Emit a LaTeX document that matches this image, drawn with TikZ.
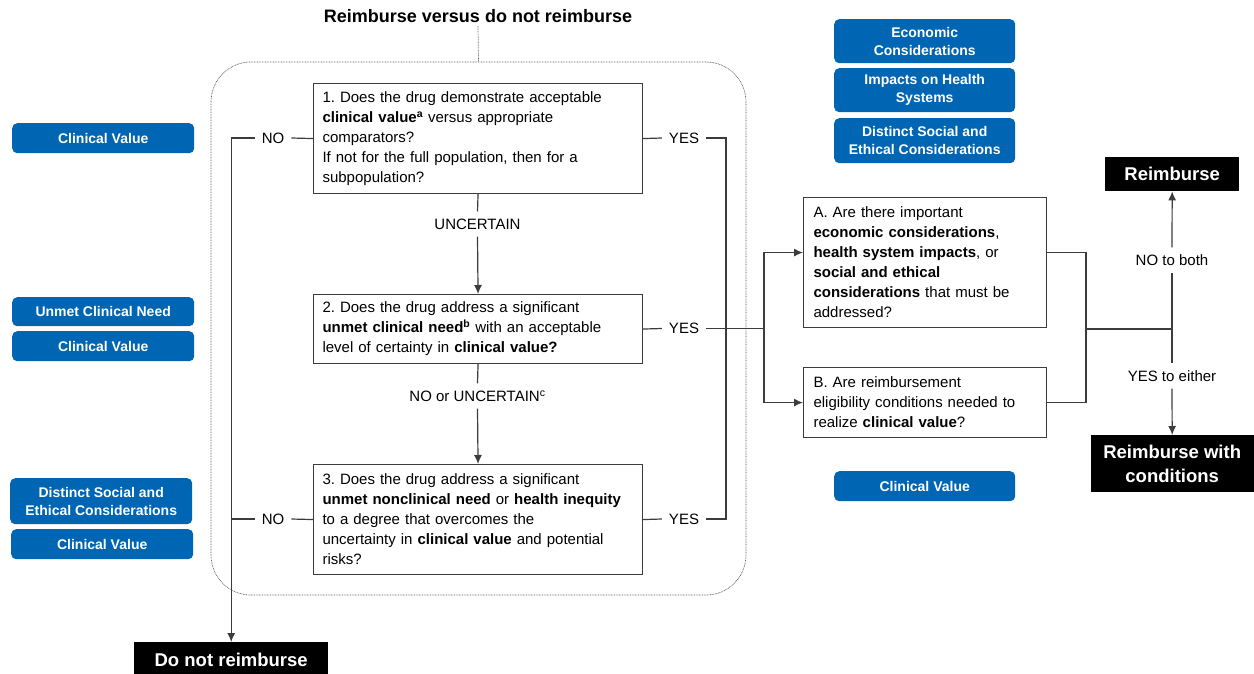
\documentclass[tikz,border=0pt]{standalone}
\usepackage{fontspec}
\setmainfont{Liberation Sans}
\usetikzlibrary{arrows.meta,positioning}

\definecolor{tagblue}{RGB}{0,102,179}
\definecolor{linegray}{RGB}{60,60,60}

\tikzset{
  question/.style={draw=linegray, line width=1.1pt, anchor=north west, align=left,
    inner xsep=9pt, inner ysep=0pt, font=\fontsize{15}{20}\selectfont},
  tag/.style={fill=tagblue, rounded corners=5pt, text=white, anchor=north west, align=center,
    inner sep=1pt, minimum width=182pt, minimum height=30pt,
    font=\bfseries\fontsize{14}{18}\selectfont},
  outcome/.style={fill=black, text=white, anchor=north west, align=center, inner sep=0pt,
    font=\bfseries\fontsize{18.5}{24}\selectfont},
  lbl/.style={inner sep=7pt, font=\fontsize{15}{18}\selectfont},
  conn/.style={draw=linegray, line width=1.2pt},
  arr/.style={conn, -{Latex[length=9pt,width=8pt]}},
  dots/.style={draw=black!65, line width=0.7pt, dash pattern=on 0.8pt off 0.8pt},
}

\begin{document}
\frenchspacing
\begin{tikzpicture}[x=1pt, y=-1pt]
    \useasboundingbox (0,0) rectangle (1254,673);

    % Titolo e cornice tratteggiata
    \node[font=\bfseries\fontsize{18}{22}\selectfont] (title) at (478,16) {Reimburse versus do not reimburse};
    \node[dots, rounded corners=40pt, minimum width=535pt, minimum height=533pt] (frame) at (478.5,328.5) {};
    \draw[dots] (title.south) -- (frame.north);

    % Domande 1-3
    \node[question, text width=311pt, minimum height=110pt] (q1) at (313,83)
      {1. Does the drug demonstrate acceptable\\
       \textbf{clinical value\textsuperscript{a}} versus appropriate\\
       comparators?\\
       If not for the full population, then for a\\
       subpopulation?};
    \node[question, text width=311pt, minimum height=69pt] (q2) at (313,294)
      {2. Does the drug address a significant\\
       \textbf{unmet clinical need\textsuperscript{b}} with an acceptable\\
       level of certainty in \textbf{clinical value?}};
    \node[question, text width=311pt, minimum height=110pt] (q3) at (313,464)
      {3. Does the drug address a significant\\
       \textbf{unmet nonclinical need} or \textbf{health inequity}\\
       to a degree that overcomes the\\
       uncertainty in \textbf{clinical value} and potential\\
       risks?};

    % Domande A e B
    \node[question, inner xsep=10pt, text width=223pt, minimum height=130pt] (qa) at (803,197)
      {A. Are there important\\
       \textbf{economic considerations},\\
       \textbf{health system impacts}, or\\
       \textbf{social and ethical}\\
       \textbf{considerations} that must be\\
       addressed?};
    \node[question, inner xsep=10pt, text width=223pt, minimum height=70pt] (qb) at (803,367)
      {B. Are reimbursement\\
       eligibility conditions needed to\\
       realize \textbf{clinical value}?};

    % Etichette blu
    \node[tag] (cv_one) at (12,123) {Clinical Value};
    \node[tag, minimum height=29pt] (unmet) at (12,297) {Unmet Clinical Need};
    \node[tag] (cv_two) at (12,331) {Clinical Value};
    \node[tag, minimum height=46pt] (social_left) at (10,478) {Distinct Social and\\Ethical Considerations};
    \node[tag] (cv_three) at (11,529) {Clinical Value};
    \node[tag, minimum width=181pt, minimum height=44pt] (econ) at (834,19) {Economic\\Considerations};
    \node[tag, minimum width=181pt, minimum height=44pt] (impacts) at (834,68) {Impacts on Health\\Systems};
    \node[tag, minimum width=181pt, minimum height=45pt] (social_right) at (834,118) {Distinct Social and\\Ethical Considerations};
    \node[tag, minimum width=181pt] (cv_four) at (834,471) {Clinical Value};

    % Esiti
    \node[outcome, minimum width=134pt, minimum height=34pt] (reimb) at (1105,157) {Reimburse};
    \node[outcome, minimum width=163pt, minimum height=57pt] (reimb_cond) at (1090.5,435) {Reimburse with\\conditions};
    \node[outcome, minimum width=194pt, minimum height=36pt] (no_reimb) at (134,642) {Do not reimburse};

    % Etichette dei rami
    \node[lbl] (unc) at (477.5,224) {UNCERTAIN};
    \node[lbl] (no_unc) at (477.5,396) {NO or UNCERTAIN\textsuperscript{c}};
    \node[lbl] (no_one) at (273,138) {NO};
    \node[lbl] (no_three) at (273,519) {NO};
    \node[lbl] (yes_one) at (684,138) {YES};
    \node[lbl] (yes_two) at (684,328.5) {YES};
    \node[lbl] (yes_three) at (684,519) {YES};
    \node[lbl] (no_both) at (1172,260) {NO to both};
    \node[lbl] (yes_either) at (1172,376) {YES to either};

    \coordinate (yes_rail) at (726,138);
    \coordinate (split) at (764,328.5);
    \coordinate (merge) at (1086,329);

    % Frecce verticali 1 -> 2 -> 3
    \draw[conn] (q1.south) -- (unc.north);
    \draw[arr] (unc.south) -- (q2.north);
    \draw[conn] (q2.south) -- (no_unc.north);
    \draw[arr] (no_unc.south) -- (q3.north);

    % Rami NO
    \draw[conn] (q1.west) -- (no_one.east);
    \draw[arr] (no_one.west) -- (no_one.west -| no_reimb.north) -- (no_reimb.north);
    \draw[conn] (q3.west) -- (no_three.east);
    \draw[conn] (no_three.west) -- (no_three.west -| no_reimb.north);

    % Rami YES
    \draw[conn] (q1.east) -- (yes_one.west);
    \draw[conn] (yes_one.east) -- (yes_rail) -- (yes_rail |- yes_three) -- (yes_three.east);
    \draw[conn] (q3.east) -- (yes_three.west);
    \draw[conn] (q2.east) -- (yes_two.west);
    \draw[conn] (yes_two.east) -- (split);
    \draw[arr] (split) |- ([yshift=10pt]qa.west);
    \draw[arr] (split) |- (qb.west);

    % Verso gli esiti
    \draw[conn] ([yshift=10pt]qa.east) -| (merge);
    \draw[conn] (qb.east) -| (merge);
    \draw[conn] (merge) -- (merge -| no_both);
    \draw[conn] (merge -| no_both) -- (no_both.south);
    \draw[arr] (no_both.north) -- (reimb.south);
    \draw[conn] (merge -| no_both) -- (yes_either.north);
    \draw[arr] (yes_either.south) -- (reimb_cond.north);
\end{tikzpicture}
\end{document}
